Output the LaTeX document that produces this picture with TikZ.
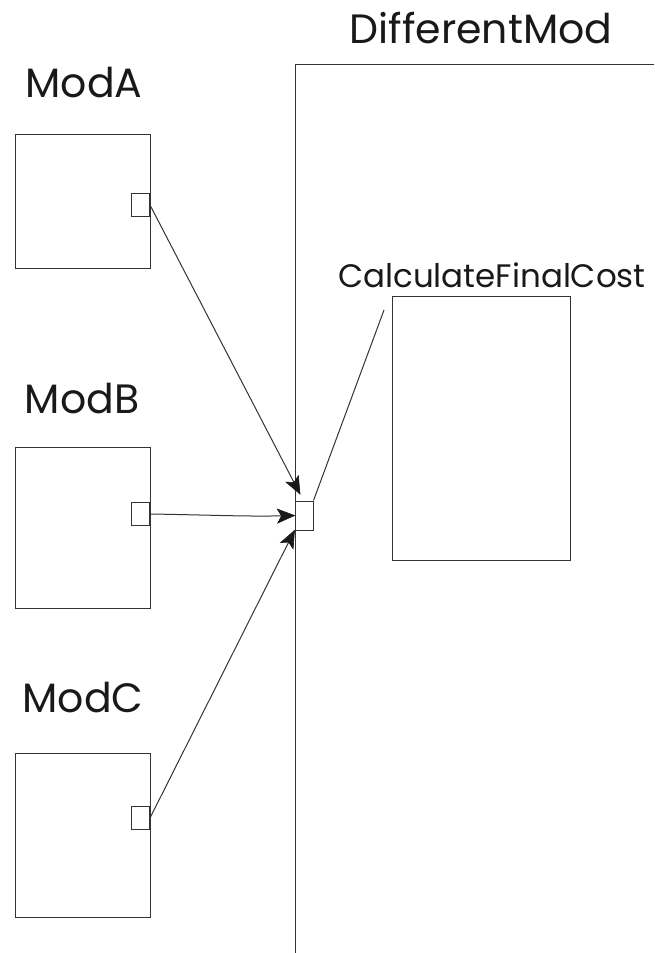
\documentclass[tikz,border=0pt]{standalone}
\usepackage{fontspec}
\setmainfont{Poppins}
\usetikzlibrary{calc}
\tikzset{
  ln/.style={draw=black!80, line width=1pt},
  modbox/.style={ln, rectangle, inner sep=0pt, minimum width=135pt},
  portbox/.style={ln, rectangle, inner sep=0pt, minimum width=18pt, minimum height=23pt, fill=white},
  biglbl/.style={inner sep=0pt, anchor=base, font=\fontsize{41}{44}\selectfont, text=black!90},
  smalllbl/.style={inner sep=0pt, anchor=base, font=\fontsize{32.5}{36}\selectfont, text=black!90},
  headfill/.style={fill=black!90, draw=black!90, line width=0.6pt, line join=miter},
}
\begin{document}
\begin{tikzpicture}[x=1pt, y=1pt]
\useasboundingbox (0,0) rectangle (654,-953);
% DifferentMod outline
\coordinate (dmbot) at (295,-953);
\coordinate (dmtl) at (295,-64);
\coordinate (dmtr) at (654,-64);
\draw[ln] (dmbot) -- (dmtl) -- (dmtr);
\node[biglbl] (dmlbl) at (481,-43) {DifferentMod};
% modules
\node[biglbl] (alb) at (84,-97) {ModA};
\node[modbox, minimum height=134pt] (modA) at (82.5,-201) {};
\node[portbox, anchor=east] (pA) at (150,-205) {};
\node[biglbl] (blb) at (82,-413) {ModB};
\node[modbox, minimum height=161pt] (modB) at (82.5,-527.5) {};
\node[portbox, anchor=east] (pB) at (150,-514) {};
\node[biglbl] (clb) at (83,-712) {ModC};
\node[modbox, minimum height=164pt] (modC) at (82.5,-835) {};
\node[portbox, anchor=east] (pC) at (150,-818) {};
% CalculateFinalCost
\node[smalllbl] (cfl) at (492,-287) {CalculateFinalCost};
\node[ln, rectangle, inner sep=0pt, minimum width=178pt, minimum height=264pt] (cfc) at (481,-428) {};
% target port
\node[ln, rectangle, inner sep=0pt, minimum width=18pt, minimum height=29pt] (tgt) at (304,-515.5) {};
\coordinate (lend) at (384,-310);
\coordinate (tipA) at (300,-494);
\coordinate (cB1) at (215,-515);
\coordinate (cB2) at (250,-517);
\draw[ln] (tgt.north east) -- (lend);
% connectors
\draw[ln] (pA.east) -- (tipA);
\draw[ln] (pB.east) .. controls (cB1) and (cB2) .. (tgt.west);
\draw[ln] (pC.east) -- (tgt.south west);
% arrowheads
\foreach \t/\s in {tipA/pA.east, tgt.west/cB2, tgt.south west/pC.east}{
  \path[headfill] (\t)
    -- ($(\t)!17pt!(\s)!7pt!90:(\s)$)
    -- ($(\t)!13pt!(\s)$)
    -- ($(\t)!17pt!(\s)!7pt!-90:(\s)$)
    -- cycle;
}
\end{tikzpicture}
\end{document}
